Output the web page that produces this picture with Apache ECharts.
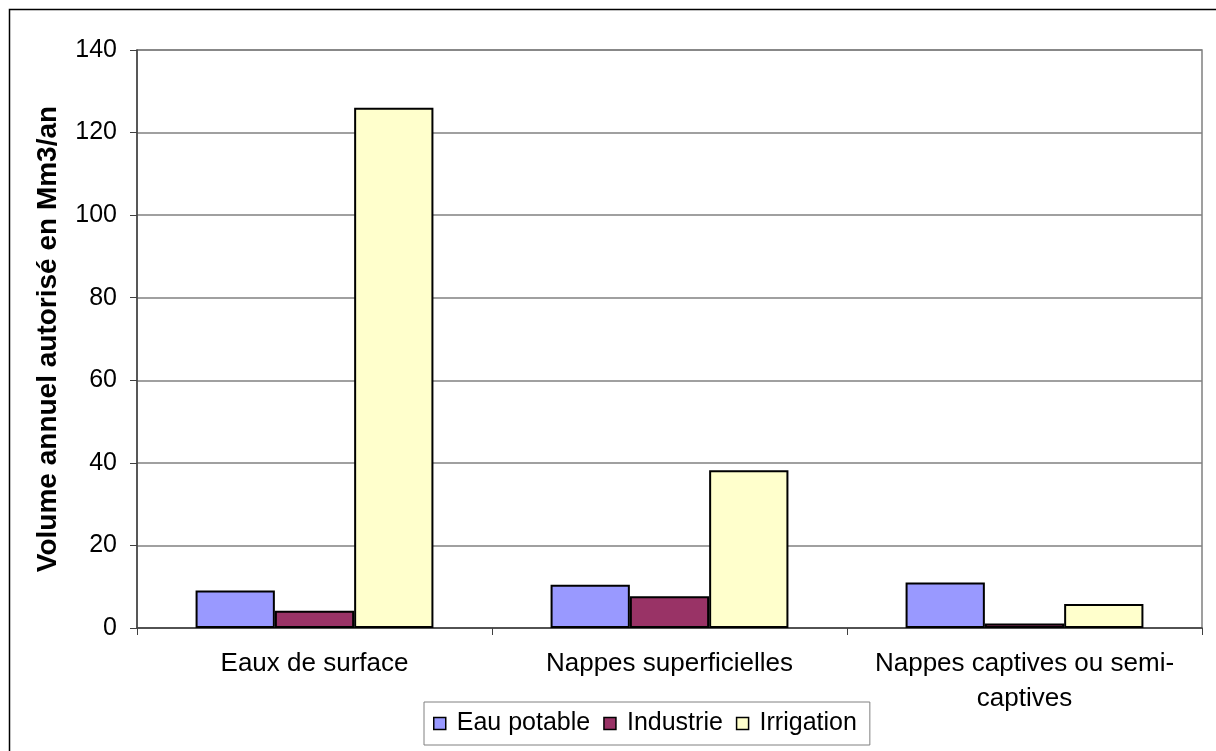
<!DOCTYPE html>
<html><head><meta charset="utf-8">
<script src="https://cdn.jsdelivr.net/npm/echarts@6/dist/echarts.min.js"></script>
<style>html,body{margin:0;padding:0;background:#fff}#c{width:1216px;height:751px}</style>
</head><body><div id="c"></div>
<script>
const categories = ["Eaux de surface", "Nappes superficielles", "Nappes captives ou semi-\ncaptives"];
const seriesNames = ["Eau potable", "Industrie", "Irrigation"];
const eauPotable = [9.1, 10.5, 11.0];
const industrie = [4.2, 7.7, 1.1];
const irrigation = [126, 38.2, 5.8];
const colors = ["#9999FF", "#993366", "#FFFFCC"];
const yTicks = [0, 20, 40, 60, 80, 100, 120, 140];

const chart = echarts.init(document.getElementById('c'), null, {renderer: 'canvas'});
const font = 'Arial, "Liberation Sans", sans-serif';
const data = [eauPotable, industrie, irrigation];
chart.setOption({
  animation: false,
  textStyle: {fontFamily: font},
  graphic: [{
    type: 'rect', left: 7, top: 7, shape: {width: 1240, height: 780},
    style: {fill: 'none', stroke: '#000', lineWidth: 1.5}, silent: true
  }],
  grid: {left: 137, right: 14, top: 50, bottom: 123, show: true, borderColor: '#808080', borderWidth: 1.5},
  legend: {
    data: seriesNames, left: 424, top: 702, itemWidth: 12, itemHeight: 12, itemGap: 13,
    borderColor: '#808080', borderWidth: 1, padding: [9, 13, 9, 9],
    textStyle: {fontSize: 25, color: '#000', fontFamily: font, padding: [0, 0, 0, 6]},
    icon: 'rect',
    itemStyle: {borderColor: '#000', borderWidth: 1.5}
  },
  xAxis: {
    type: 'category', data: categories,
    axisLine: {lineStyle: {color: '#404040', width: 1.5}},
    axisTick: {show: true, length: 7, alignWithLabel: false, lineStyle: {color: '#404040'}},
    axisLabel: {fontSize: 26, color: '#000', margin: 18, lineHeight: 35, interval: 0}
  },
  yAxis: {
    type: 'value', min: 0, max: 140, interval: 20,
    name: 'Volume annuel autorisé en Mm3/an', nameLocation: 'middle', nameGap: 75,
    nameTextStyle: {fontSize: 28, fontWeight: 'bold', color: '#000'},
    axisLine: {show: true, lineStyle: {color: '#404040', width: 1.5}},
    axisTick: {show: true, length: 7, inside: false, lineStyle: {color: '#404040'}},
    axisLabel: {fontSize: 25, color: '#000', margin: 20, formatter: v => yTicks.includes(v) ? String(v) : ''},
    splitLine: {lineStyle: {color: '#808080', width: 1.5}}
  },
  series: seriesNames.map((n, i) => ({
    name: n, type: 'bar', data: data[i],
    barGap: '0%', barCategoryGap: '33%',
    itemStyle: {color: colors[i], borderColor: '#000', borderWidth: 2}
  }))
});
</script></body></html>
